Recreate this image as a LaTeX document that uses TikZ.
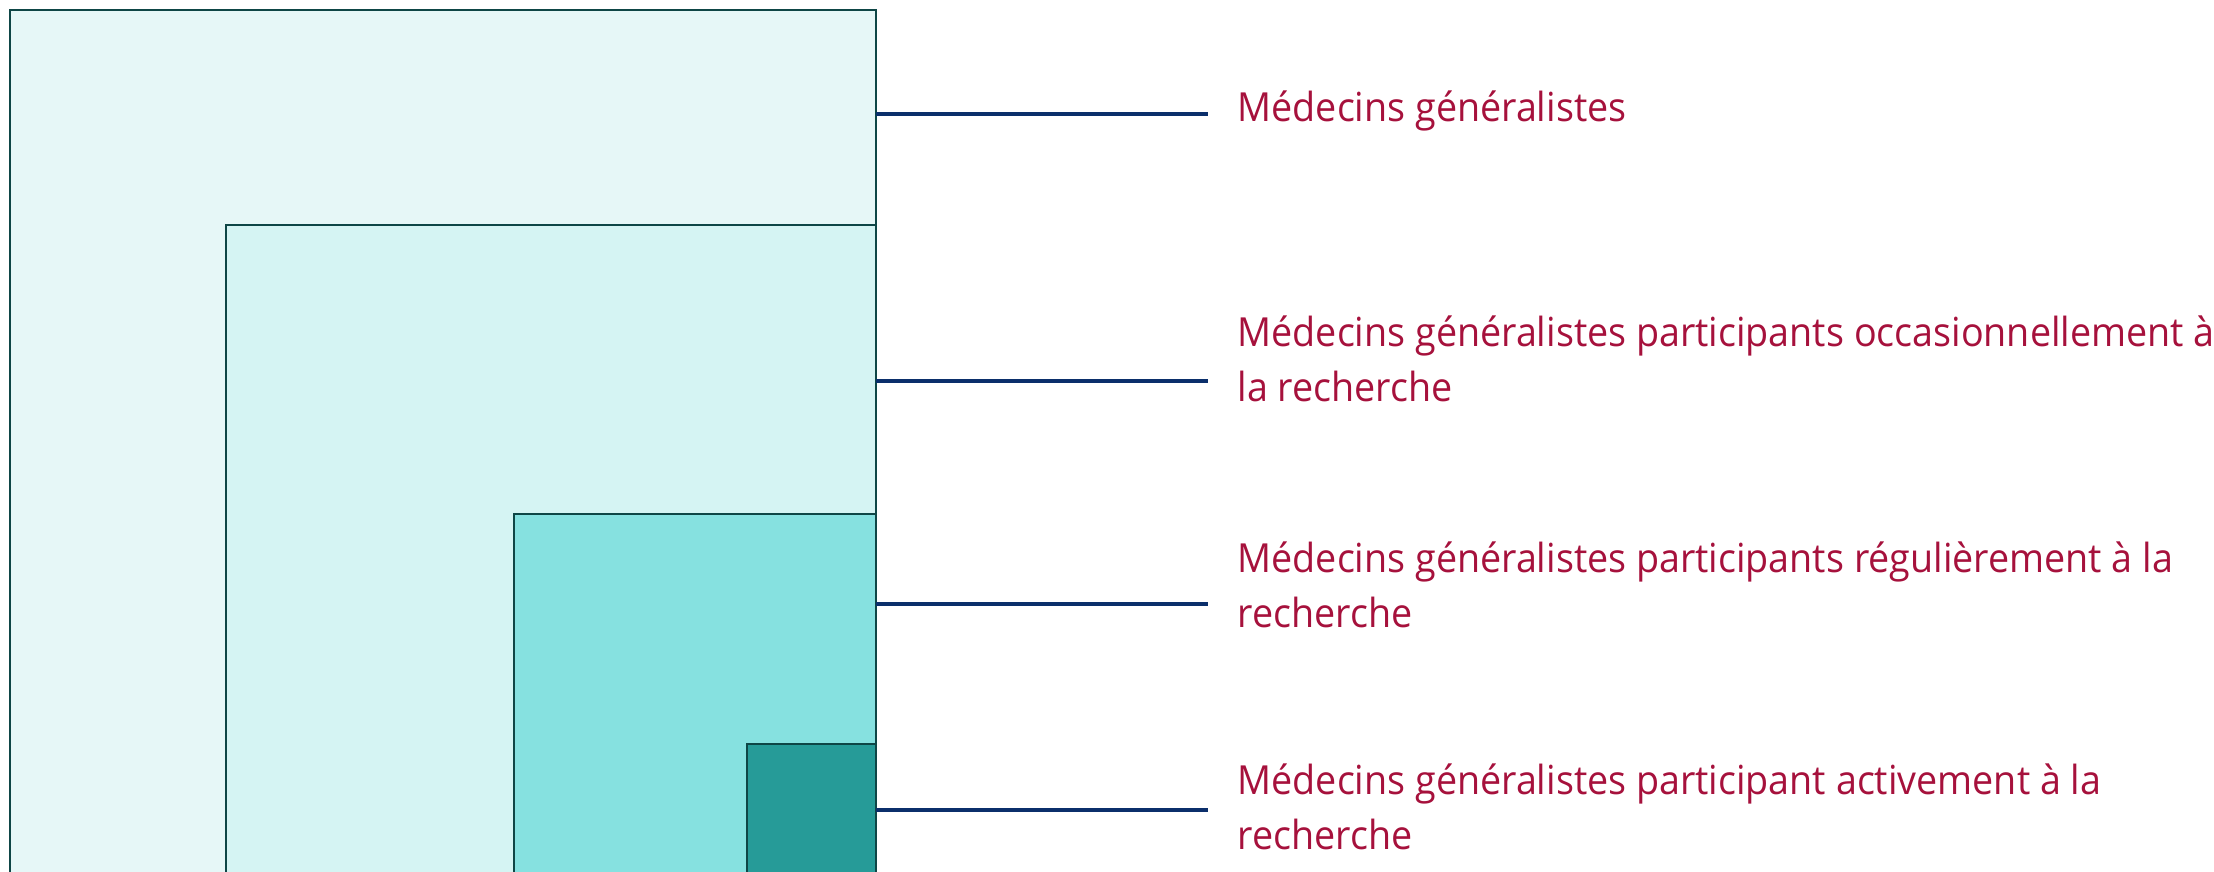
\documentclass[tikz,border=0pt]{standalone}
\usepackage{fontspec}
\setmainfont{Open Sans}[FakeStretch=0.94]
\usepackage{xcolor}
\usepackage{tikz}
\usetikzlibrary{positioning}
\definecolor{edgeteal}{HTML}{0E4646}
\definecolor{leadblue}{HTML}{0B2F6B}
\definecolor{capred}{HTML}{A6113C}
\definecolor{tierA}{HTML}{E6F7F7}
\definecolor{tierB}{HTML}{D5F4F3}
\definecolor{tierC}{HTML}{86E1E0}
\definecolor{tierD}{HTML}{269B98}
\tikzset{
    tier/.style={draw=edgeteal, fill=#1, line width=0.55pt},
    leader/.style={draw=leadblue, line width=1pt, shorten >=2.9mm},
    caption/.style={anchor=base west, inner sep=0pt, align=left, text=capred, font=\fontsize{11.4}{15.9}\selectfont}
}

\begin{document}
\begin{tikzpicture}
            % Canvas
            \useasboundingbox (0,0) rectangle (22.14,8.72);
            \clip (0,0) rectangle (22.14,8.72);
            
            % Nested groups of GPs
            \draw[tier=tierA] (0.10,-0.2) rectangle (8.76,8.62);
            \draw[tier=tierB] (2.26,-0.2) rectangle (8.76,6.47);
            \draw[tier=tierC] (5.14,-0.2) rectangle (8.76,3.58);
            \draw[tier=tierD] (7.47,-0.2) rectangle (8.76,1.28);
            
            % Points on the right edge
            \coordinate (all) at (8.76,7.58);
            \coordinate (occasional) at (8.76,4.91);
            \coordinate (regular) at (8.76,2.68);
            \coordinate (active) at (8.76,0.62);
            
            % Captions (base = last line)
            \node[caption] (allText) at (12.37,7.50) {Médecins généralistes};
            \node[caption] (occasionalText) at (12.37,4.70) {Médecins généralistes participants occasionnellement à\\la recherche};
            \node[caption] (regularText) at (12.37,2.44) {Médecins généralistes participants régulièrement à la\\recherche};
            \node[caption] (activeText) at (12.37,0.22) {Médecins généralistes participant activement à la\\recherche};
            
            % Leader lines
            \draw[leader] (all) -- (all -| allText.west);
            \draw[leader] (occasional) -- (occasional -| occasionalText.west);
            \draw[leader] (regular) -- (regular -| regularText.west);
            \draw[leader] (active) -- (active -| activeText.west);
        \end{tikzpicture}
\end{document}
